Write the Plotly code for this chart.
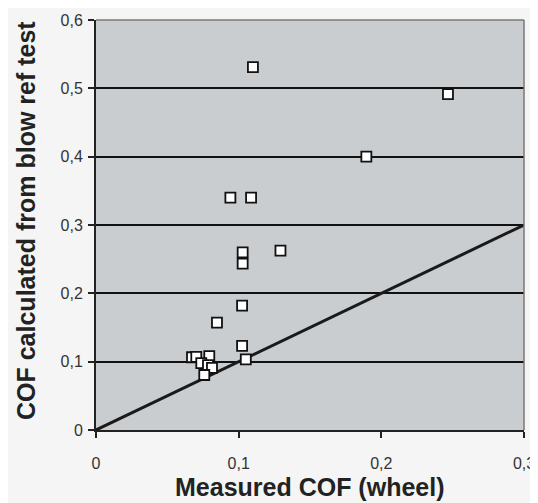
import plotly.graph_objects as go

measured_cof = [0.110, 0.2467, 0.1895, 0.0942, 0.1087, 0.1293, 0.1028, 0.1028,
                0.1024, 0.0848, 0.1024, 0.1050, 0.0673, 0.0703, 0.0794, 0.0738,
                0.0785, 0.0813, 0.0759]
blow_cof = [0.531, 0.4915, 0.400, 0.340, 0.340, 0.2625, 0.260, 0.2435,
            0.182, 0.157, 0.123, 0.1035, 0.1065, 0.107, 0.108, 0.098,
            0.095, 0.091, 0.0805]
line_x = [0, 0.3]
line_y = [0, 0.3]

x_ticks = [0, 0.1, 0.2, 0.3]
x_ticktext = ["0", "0,1", "0,2", "0,3"]
y_ticks = [0, 0.1, 0.2, 0.3, 0.4, 0.5, 0.6]
y_ticktext = ["0", "0,1", "0,2", "0,3", "0,4", "0,5", "0,6"]

fig = go.Figure()
fig.add_trace(go.Scatter(x=line_x, y=line_y, mode="lines",
                         line=dict(color="#1a1a1a", width=3), cliponaxis=False,
                         showlegend=False, hoverinfo="skip"))
fig.add_trace(go.Scatter(x=measured_cof, y=blow_cof, mode="markers",
                         marker=dict(symbol="square", size=10, color="white",
                                     line=dict(color="#111111", width=1.8)),
                         showlegend=False))

fig.update_layout(
    width=530, height=495,
    margin=dict(l=88, r=14, t=12, b=73),
    paper_bgcolor="#f4f5f4",
    plot_bgcolor="#c9cdcf",
    font=dict(family="Liberation Sans, Arial, sans-serif", color="#333333"),
    xaxis=dict(range=[0, 0.3], tickvals=x_ticks, ticktext=x_ticktext,
               automargin=False,
               showgrid=False, zeroline=False, showline=True, linecolor="#222222",
               linewidth=2, ticks="outside", ticklen=6, tickwidth=1.5,
               tickcolor="#222222", ticklabelstandoff=12,
               tickfont=dict(size=16, color="#333333")),
    yaxis=dict(range=[0, 0.6], tickvals=y_ticks, ticktext=y_ticktext,
               automargin=False,
               showgrid=True, gridcolor="#111111", gridwidth=2, zeroline=False,
               showline=True, linecolor="#222222", linewidth=2,
               ticks="outside", ticklen=6, tickwidth=1.5, tickcolor="#222222",
               ticklabelstandoff=2,
               tickfont=dict(size=16, color="#333333")),
    annotations=[
        dict(text="<b>Measured COF (wheel)</b>", xref="paper", yref="paper",
             x=0.5, y=0, yshift=-57, xanchor="center", yanchor="middle",
             showarrow=False, font=dict(size=25, color="#222222")),
        dict(text="<b>COF calculated from blow ref test</b>", xref="paper",
             yref="paper", x=0, xshift=-70, y=0.5, yshift=4, xanchor="center",
             yanchor="middle", textangle=-90, showarrow=False,
             font=dict(size=25, color="#222222")),
    ],
    shapes=[
        dict(type="line", xref="paper", yref="paper", x0=0, x1=1, y0=1, y1=1,
             line=dict(color="#777777", width=1.5)),
        dict(type="line", xref="paper", yref="paper", x0=1, x1=1, y0=0, y1=1,
             line=dict(color="#777777", width=1.5)),
    ],
)

fig.write_html("out.html")
